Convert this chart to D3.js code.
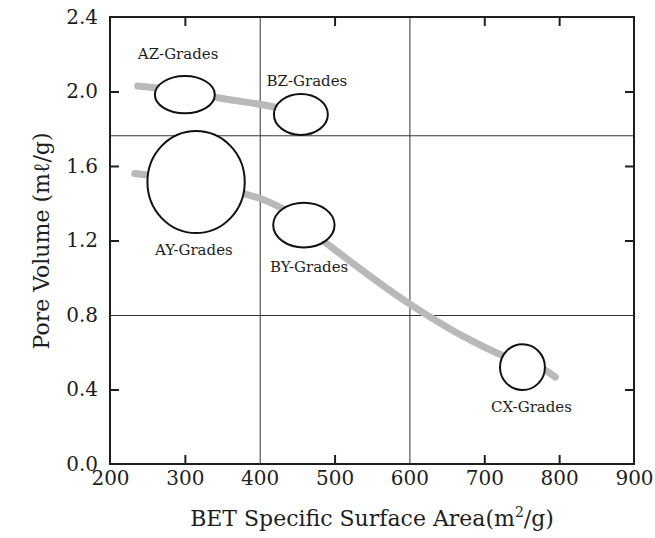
<!DOCTYPE html>
<html>
<head>
<meta charset="utf-8">
<script src="https://cdn.jsdelivr.net/npm/d3@7"></script>
<style>
  body { margin: 0; background: #fff; }
  text { font-family: "DejaVu Serif", serif; fill: #1e1e1e; }
</style>
</head>
<body>
<div id="chart"></div>
<script>
// grades: centre (surface area, pore volume) and half spread of each range
const grades = ["AZ-Grades", "BZ-Grades", "AY-Grades", "BY-Grades", "CX-Grades"];
const gradeArea = [300, 455, 315, 459, 751];
const gradeVolume = [1.983, 1.877, 1.514, 1.283, 0.52];
const areaSpread = [40, 36, 65, 41, 30];
const volumeSpread = [0.10, 0.11, 0.274, 0.12, 0.123];
// where each label sits, in data units
const labelArea = [291, 463, 312, 466, 763];
const labelVolume = [2.175, 2.027, 1.122, 1.031, 0.281];

// the two grey trend curves
const upperArea = [237, 300, 342, 418, 455];
const upperVolume = [2.03, 2.0, 1.968, 1.918, 1.885];
const lowerArea = [233, 300, 380, 400, 427, 489, 600, 681, 723, 781, 795];
const lowerVolume = [1.56, 1.525, 1.45, 1.427, 1.378, 1.185, 0.86, 0.666, 0.585, 0.505, 0.467];

const xTickLabels = [200, 300, 400, 500, 600, 700, 800, 900];
const xInnerTicks = [300, 500, 700, 800];
const xGrid = [400, 600];
const yTickLabels = [0, 0.4, 0.8, 1.2, 1.6, 2.0, 2.4];
const yInnerTicks = [0.4, 1.2, 1.6, 2.0];
const yGrid = [0.8, 1.765];

const width = 655, height = 538;
const margin = { top: 17, right: 21, bottom: 74, left: 110 };
const plotW = width - margin.left - margin.right;
const plotH = height - margin.top - margin.bottom;

const svg = d3.select("#chart").append("svg")
  .attr("width", width)
  .attr("height", height);

const x = d3.scaleLinear().domain([200, 900]).range([0, plotW]);
const y = d3.scaleLinear().domain([0, 2.4]).range([plotH, 0]);

const g = svg.append("g")
  .attr("transform", "translate(" + margin.left + "," + margin.top + ")");

// grid lines
g.append("g")
  .attr("transform", "translate(0," + plotH + ")")
  .call(d3.axisBottom(x).tickValues(xGrid).tickSize(-plotH).tickFormat(""))
  .call(a => a.select(".domain").remove())
  .selectAll("line").attr("stroke", "#333").attr("stroke-width", 1);
g.append("g")
  .call(d3.axisLeft(y).tickValues(yGrid).tickSize(-plotW).tickFormat(""))
  .call(a => a.select(".domain").remove())
  .selectAll("line").attr("stroke", "#333").attr("stroke-width", 1);

// inner ticks on all four sides
const tickLen = 9;
function innerTicks(axis, tr) {
  const a = g.append("g").call(axis.tickSize(-tickLen).tickFormat(""));
  if (tr) a.attr("transform", tr);
  a.select(".domain").remove();
  a.selectAll("line").attr("stroke", "#1e1e1e").attr("stroke-width", 2);
}
innerTicks(d3.axisBottom(x).tickValues(xInnerTicks), "translate(0," + plotH + ")");
innerTicks(d3.axisTop(x).tickValues(xInnerTicks));
innerTicks(d3.axisLeft(y).tickValues(yInnerTicks));
innerTicks(d3.axisRight(y).tickValues(yInnerTicks), "translate(" + plotW + ",0)");

// tick labels
const xLab = g.append("g")
  .attr("transform", "translate(0," + plotH + ")")
  .call(d3.axisBottom(x).tickValues(xTickLabels).tickSize(0).tickPadding(7));
xLab.select(".domain").remove();
xLab.selectAll("text").style("font-size", "20px").style("font-family", "DejaVu Serif").attr("fill", "#1e1e1e");

const yLab = g.append("g")
  .call(d3.axisLeft(y).tickValues(yTickLabels).tickSize(0).tickPadding(12).tickFormat(d3.format(".1f")));
yLab.select(".domain").remove();
yLab.selectAll("text").style("font-size", "20px").style("font-family", "DejaVu Serif").attr("fill", "#1e1e1e");

// trend curves
const line = d3.line()
  .x(d => x(d[0]))
  .y(d => y(d[1]))
  .curve(d3.curveMonotoneX);

[[upperArea, upperVolume], [lowerArea, lowerVolume]].forEach(function(s) {
  g.append("path")
    .datum(d3.zip(s[0], s[1]))
    .attr("fill", "none")
    .attr("stroke", "#b9b9b9")
    .attr("stroke-width", 7)
    .attr("stroke-linecap", "round")
    .attr("d", line);
});

// grade ellipses
const gradeData = grades.map(function(name, i) {
  return {
    name: name,
    x: gradeArea[i], y: gradeVolume[i],
    dx: areaSpread[i], dy: volumeSpread[i],
    lx: labelArea[i], ly: labelVolume[i]
  };
});

g.selectAll("ellipse.grade")
  .data(gradeData)
  .enter().append("ellipse")
  .attr("class", "grade")
  .attr("cx", d => x(d.x))
  .attr("cy", d => y(d.y))
  .attr("rx", d => x(d.x + d.dx) - x(d.x))
  .attr("ry", d => y(d.y - d.dy) - y(d.y))
  .attr("fill", "#fff")
  .attr("stroke", "#111")
  .attr("stroke-width", 2);

g.selectAll("text.grade")
  .data(gradeData)
  .enter().append("text")
  .attr("class", "grade")
  .attr("x", d => x(d.lx))
  .attr("y", d => y(d.ly))
  .attr("text-anchor", "middle")
  .style("font-size", "15px")
  .text(d => d.name);

// frame
g.append("rect")
  .attr("width", plotW)
  .attr("height", plotH)
  .attr("fill", "none")
  .attr("stroke", "#1e1e1e")
  .attr("stroke-width", 2);

// axis titles
const xTitle = svg.append("text")
  .attr("x", 372)
  .attr("y", 526)
  .attr("text-anchor", "middle")
  .style("font-size", "22px");
xTitle.append("tspan").text("BET Specific Surface Area(m");
xTitle.append("tspan").attr("dy", -9).style("font-size", "14px").text("2");
xTitle.append("tspan").attr("dy", 9).text("/g)");

svg.append("text")
  .attr("transform", "translate(49,241) rotate(-90)")
  .attr("text-anchor", "middle")
  .style("font-size", "22px")
  .text("Pore Volume (mℓ/g)");
</script>
</body>
</html>
